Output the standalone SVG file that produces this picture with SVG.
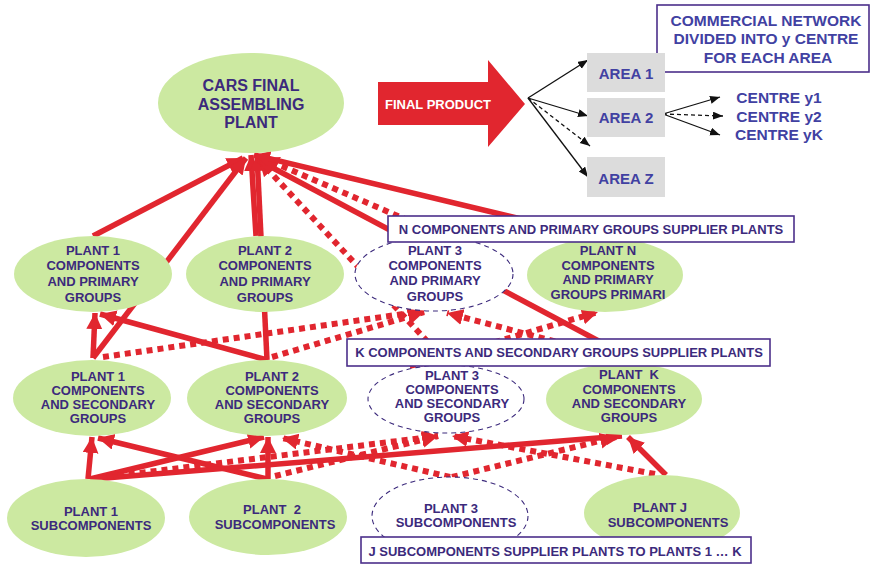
<svg xmlns="http://www.w3.org/2000/svg" width="871" height="564" viewBox="0 0 871 564">
  <style>
    text { font-family: "Liberation Sans", Arial, sans-serif; font-weight: bold; text-anchor: middle; }
    .nt { font-size: 13px; fill: #3c2a7c; }
    .big { font-size: 16px; fill: #3c2a7c; }
    .blue { font-size: 15.5px; fill: #4141a2; }
    .node { fill: #cce9a1; }
    .ghost { fill: #ffffff; stroke: #3c2a7c; stroke-width: 1.1; stroke-dasharray: 5 4; }
    .lbl { fill: #ffffff; stroke: #4b2f8a; stroke-width: 1.6; }
    .area { fill: #dcdcdc; }
    .s { stroke: #e1262f; stroke-width: 5.5; fill: none; marker-end: url(#ah); }
    .sl { stroke: #e1262f; stroke-width: 5.5; fill: none; }
    .d { stroke: #e1262f; stroke-width: 6; fill: none; stroke-dasharray: 6 5; marker-end: url(#ah); }
    .k { stroke: #111111; stroke-width: 1.3; fill: none; marker-end: url(#bh); }
    .kd { stroke: #111111; stroke-width: 1.3; fill: none; stroke-dasharray: 4 3; marker-end: url(#bh); }
  </style>
  <defs>
    <marker id="ah" markerUnits="userSpaceOnUse" markerWidth="18" markerHeight="18" refX="16" refY="8" orient="auto">
      <path d="M0,0 L16,8 L0,16 Z" fill="#e1262f"/>
    </marker>
    <marker id="bh" markerUnits="userSpaceOnUse" markerWidth="12" markerHeight="10" refX="10" refY="4" orient="auto">
      <path d="M0,0 L10,4 L0,8 Z" fill="#111111"/>
    </marker>
  </defs>

  <rect width="871" height="564" fill="#ffffff"/>

  <!-- supply flows -->
  <g id="connectors">
    <!-- into the final assembling plant -->
    <line class="s" x1="93" y1="236" x2="243" y2="158"/>
    <line class="s" x1="93" y1="358" x2="246" y2="158"/>
    <line class="s" x1="256" y1="236" x2="251" y2="155"/>
    <line class="s" x1="267" y1="360" x2="257" y2="155"/>
    <line class="d" x1="449" y1="238" x2="263" y2="158"/>
    <line class="d" x1="450" y1="366" x2="259" y2="160"/>
    <line class="s" x1="642" y1="364" x2="258" y2="160"/>
    <line class="s" x1="600" y1="238" x2="254" y2="155"/>

    <!-- secondary groups to primary groups -->
    <line class="s" x1="93" y1="358" x2="95" y2="313"/>
    <line class="s" x1="267" y1="360" x2="100" y2="314"/>
    <line class="d" x1="103" y1="357" x2="424" y2="311"/>
    <line class="d" x1="272" y1="357" x2="424" y2="312"/>
    <line class="d" x1="640" y1="364" x2="447" y2="313"/>
    <line class="d" x1="410" y1="367" x2="598" y2="312"/>

    <!-- subcomponents to secondary groups -->
    <line class="s" x1="88" y1="479" x2="92" y2="437"/>
    <line class="s" x1="267" y1="479" x2="98" y2="438"/>
    <line class="s" x1="90" y1="479" x2="264" y2="437"/>
    <line class="s" x1="268" y1="479" x2="268" y2="437"/>
    <line class="s" x1="93" y1="479" x2="622" y2="436"/>
    <line class="s" x1="666" y1="475" x2="628" y2="437"/>
    <line class="d" x1="107" y1="477" x2="438" y2="436"/>
    <line class="d" x1="275" y1="476" x2="438" y2="436"/>
    <line class="d" x1="450" y1="477" x2="282" y2="438"/>
    <line class="d" x1="452" y1="477" x2="616" y2="437"/>
    <line class="d" x1="655" y1="474" x2="452" y2="436"/>

    <!-- distribution network -->
    <line class="k" x1="528" y1="98" x2="588" y2="60"/>
    <line class="k" x1="528" y1="98" x2="588" y2="116"/>
    <line class="kd" x1="528" y1="98" x2="590" y2="146"/>
    <line class="k" x1="528" y1="98" x2="588" y2="177"/>
    <line class="k" x1="663" y1="114" x2="720" y2="97"/>
    <line class="kd" x1="663" y1="114" x2="723" y2="116"/>
    <line class="k" x1="663" y1="114" x2="720" y2="135"/>
  </g>

  <g id="cars-plant">
    <ellipse class="node" cx="251" cy="103" rx="93" ry="50"/>
    <text class="big" x="251" y="91">CARS FINAL</text>
    <text class="big" x="251" y="110">ASSEMBLING</text>
    <text class="big" x="251" y="128">PLANT</text>
  </g>

  <g id="final-product">
    <polygon points="378,82 488,82 488,60 525,104 488,147 488,125 378,125" fill="#e1262f"/>
    <text x="438" y="109" style="font-size:13px;fill:#ffffff">FINAL PRODUCT</text>
  </g>

  <g id="commercial-network">
    <rect class="lbl" x="657" y="5" width="212" height="67"/>
    <text class="blue" x="766" y="25.5">COMMERCIAL NETWORK</text>
    <text class="blue" x="766" y="43.5">DIVIDED INTO y CENTRE</text>
    <text class="blue" x="768" y="62.5">FOR EACH AREA</text>
  </g>

  <g id="area-1">
    <rect class="area" x="587" y="53" width="78" height="39"/>
    <text class="blue" x="626" y="78.5" style="font-size:15px">AREA 1</text>
  </g>
  <g id="area-2">
    <rect class="area" x="587" y="98" width="78" height="39"/>
    <text class="blue" x="626" y="122.5" style="font-size:15px">AREA 2</text>
  </g>
  <g id="area-z">
    <rect class="area" x="587" y="157" width="78" height="40"/>
    <text class="blue" x="626" y="183.5" style="font-size:15px">AREA Z</text>
  </g>

  <g id="centres">
    <text class="blue" x="779" y="102.5">CENTRE y1</text>
    <text class="blue" x="779" y="121.5">CENTRE y2</text>
    <text class="blue" x="779" y="139.5">CENTRE yK</text>
  </g>

  <!-- components and primary groups -->
  <g id="plant1-primary">
    <ellipse class="node" cx="93" cy="274" rx="79" ry="38"/>
    <text class="nt" x="93" y="255">PLANT 1</text>
    <text class="nt" x="93" y="270">COMPONENTS</text>
    <text class="nt" x="93" y="286">AND PRIMARY</text>
    <text class="nt" x="93" y="302">GROUPS</text>
  </g>
  <g id="plant2-primary">
    <ellipse class="node" cx="265" cy="274" rx="79" ry="38"/>
    <text class="nt" x="265" y="255">PLANT 2</text>
    <text class="nt" x="265" y="270">COMPONENTS</text>
    <text class="nt" x="265" y="286">AND PRIMARY</text>
    <text class="nt" x="265" y="302">GROUPS</text>
  </g>
  <g id="plant3-primary">
    <ellipse class="ghost" cx="434" cy="274" rx="79" ry="37"/>
    <text class="nt" x="435" y="255">PLANT 3</text>
    <text class="nt" x="435" y="270">COMPONENTS</text>
    <text class="nt" x="435" y="285">AND PRIMARY</text>
    <text class="nt" x="435" y="301">GROUPS</text>
  </g>
  <g id="plantN-primary">
    <ellipse class="node" cx="605" cy="275" rx="78" ry="37"/>
    <text class="nt" x="608" y="255">PLANT N</text>
    <text class="nt" x="608" y="270">COMPONENTS</text>
    <text class="nt" x="608" y="284">AND PRIMARY</text>
    <text class="nt" x="608" y="299">GROUPS PRIMARI</text>
  </g>

  <!-- components and secondary groups -->
  <g id="plant1-secondary">
    <ellipse class="node" cx="92" cy="398" rx="79" ry="38"/>
    <text class="nt" x="98" y="381">PLANT 1</text>
    <text class="nt" x="98" y="395">COMPONENTS</text>
    <text class="nt" x="98" y="409">AND SECONDARY</text>
    <text class="nt" x="98" y="423">GROUPS</text>
  </g>
  <g id="plant2-secondary">
    <ellipse class="node" cx="267" cy="398" rx="80" ry="38"/>
    <text class="nt" x="272" y="381">PLANT 2</text>
    <text class="nt" x="272" y="395">COMPONENTS</text>
    <text class="nt" x="272" y="409">AND SECONDARY</text>
    <text class="nt" x="272" y="423">GROUPS</text>
  </g>
  <g id="plant3-secondary">
    <ellipse class="ghost" cx="446" cy="399" rx="78" ry="34"/>
    <text class="nt" x="452" y="380">PLANT 3</text>
    <text class="nt" x="452" y="394">COMPONENTS</text>
    <text class="nt" x="452" y="408">AND SECONDARY</text>
    <text class="nt" x="452" y="422">GROUPS</text>
  </g>
  <g id="plantK-secondary">
    <ellipse class="node" cx="624" cy="399" rx="78" ry="36"/>
    <text class="nt" x="629" y="379" xml:space="preserve">PLANT  K</text>
    <text class="nt" x="629" y="394">COMPONENTS</text>
    <text class="nt" x="629" y="408">AND SECONDARY</text>
    <text class="nt" x="629" y="422">GROUPS</text>
  </g>

  <!-- subcomponents -->
  <g id="plant1-sub">
    <ellipse class="node" cx="86" cy="518" rx="79" ry="39"/>
    <text class="nt" x="91" y="516">PLANT 1</text>
    <text class="nt" x="91" y="530">SUBCOMPONENTS</text>
  </g>
  <g id="plant2-sub">
    <ellipse class="node" cx="268" cy="517" rx="79" ry="38"/>
    <text class="nt" x="272" y="514" xml:space="preserve">PLANT  2</text>
    <text class="nt" x="275" y="529">SUBCOMPONENTS</text>
  </g>
  <g id="plant3-sub">
    <ellipse class="ghost" cx="450" cy="516" rx="78" ry="39"/>
    <text class="nt" x="451" y="513">PLANT 3</text>
    <text class="nt" x="456" y="527">SUBCOMPONENTS</text>
  </g>
  <g id="plantJ-sub">
    <ellipse class="node" cx="662" cy="513" rx="78" ry="38"/>
    <text class="nt" x="660" y="512">PLANT J</text>
    <text class="nt" x="668" y="527">SUBCOMPONENTS</text>
  </g>

  <!-- tier captions -->
  <g id="caption-n">
    <rect class="lbl" x="388" y="216" width="406" height="26"/>
    <text class="nt" x="591" y="234">N COMPONENTS AND PRIMARY GROUPS SUPPLIER PLANTS</text>
  </g>
  <g id="caption-k">
    <rect class="lbl" x="347" y="339" width="423" height="27"/>
    <text class="nt" x="559" y="357">K COMPONENTS AND SECONDARY GROUPS SUPPLIER PLANTS</text>
  </g>
  <g id="caption-j">
    <rect class="lbl" x="361" y="537" width="390" height="26"/>
    <text class="nt" x="555" y="556">J SUBCOMPONENTS SUPPLIER PLANTS TO PLANTS 1 … K</text>
  </g>
</svg>
